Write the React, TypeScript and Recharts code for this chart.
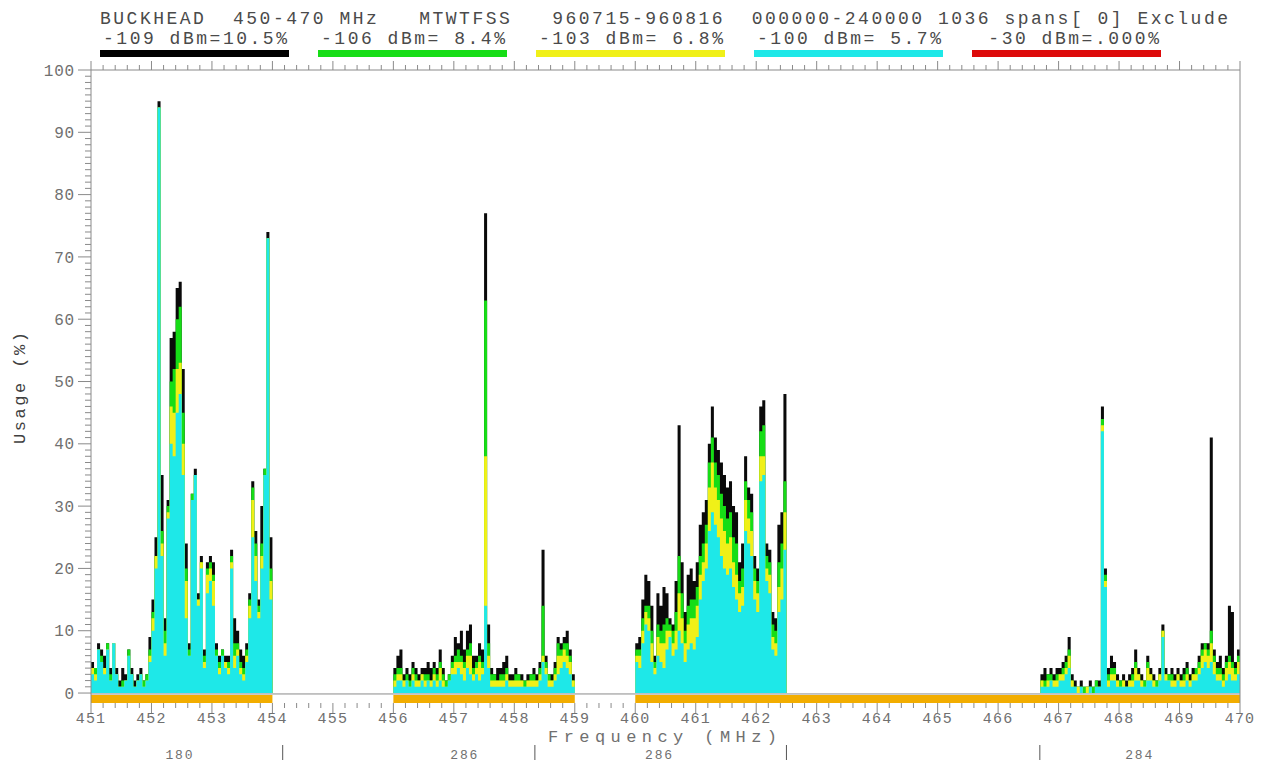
import {
  Area,
  ComposedChart,
  Customized,
  ReferenceArea,
  ReferenceLine,
  XAxis,
  YAxis,
} from "recharts";

const BIN = 0.05; // MHz per usage bin

// first frequency (MHz) of each scanned block
const blockStart = [451, 456, 460, 466.7];

// usage (%) at or above each threshold, one list per block
const usage109 = [
  [5, 4, 8, 7, 6, 8, 4, 8, 4, 2, 4, 3, 7, 4, 2, 3, 4, 2, 3, 9, 15, 25, 95, 35, 12, 31, 57, 58, 65, 66, 52, 24, 8, 32, 36, 16, 22, 7, 21, 22, 21, 8, 6, 7, 6, 6, 23, 12, 10, 7, 6, 8, 16, 34, 26, 15, 30, 36, 74, 25],
  [4, 6, 7, 3, 4, 3, 5, 4, 3, 4, 4, 5, 4, 5, 4, 7, 4, 2, 3, 6, 9, 8, 10, 7, 10, 11, 6, 6, 8, 7, 77, 11, 4, 3, 4, 4, 5, 6, 3, 3, 4, 3, 3, 2, 3, 3, 4, 3, 5, 23, 6, 3, 3, 5, 9, 8, 9, 10, 7, 3],
  [8, 9, 15, 19, 18, 14, 6, 16, 14, 17, 16, 12, 11, 18, 43, 21, 13, 19, 20, 18, 21, 27, 29, 31, 40, 46, 41, 39, 37, 35, 33, 34, 30, 29, 21, 24, 38, 33, 32, 22, 20, 46, 47, 24, 23, 13, 12, 27, 29, 48],
  [3, 4, 3, 4, 3, 4, 4, 5, 6, 9, 3, 2, 1, 2, 1, 1, 2, 1, 2, 2, 46, 20, 4, 6, 5, 3, 2, 3, 2, 3, 4, 7, 4, 3, 2, 6, 4, 3, 2, 4, 11, 4, 3, 4, 3, 4, 3, 4, 5, 3, 4, 4, 6, 8, 8, 8, 41, 7, 5, 6, 4, 6, 14, 13, 5, 7],
];
const usage106 = [
  [4, 4, 7, 6, 4, 8, 3, 8, 3, 1, 2, 2, 7, 3, 1, 2, 3, 2, 3, 7, 13, 22, 94, 26, 10, 30, 50, 52, 60, 62, 45, 20, 7, 32, 35, 15, 21, 6, 20, 21, 19, 7, 5, 7, 5, 5, 22, 8, 8, 5, 4, 7, 15, 33, 24, 14, 24, 36, 73, 20],
  [3, 4, 4, 2, 3, 2, 4, 3, 2, 3, 3, 3, 2, 4, 3, 5, 3, 2, 3, 5, 6, 7, 6, 5, 7, 8, 4, 5, 6, 5, 63, 8, 3, 3, 2, 3, 3, 4, 2, 2, 3, 3, 2, 2, 2, 3, 3, 2, 4, 14, 5, 3, 2, 4, 8, 7, 8, 8, 6, 2],
  [7, 7, 12, 14, 14, 10, 5, 11, 10, 11, 12, 11, 10, 13, 22, 16, 10, 14, 15, 15, 17, 22, 24, 27, 37, 41, 37, 35, 32, 30, 28, 29, 25, 24, 18, 20, 34, 31, 29, 20, 18, 42, 43, 22, 21, 11, 10, 21, 24, 34],
  [2, 2, 3, 3, 2, 3, 3, 4, 5, 7, 2, 1, 1, 1, 1, 1, 1, 1, 2, 1, 44, 19, 3, 4, 4, 2, 2, 2, 1, 2, 3, 5, 3, 2, 2, 5, 3, 2, 2, 3, 10, 3, 3, 3, 2, 3, 2, 3, 4, 2, 3, 4, 5, 7, 8, 7, 10, 6, 4, 4, 3, 5, 6, 5, 4, 6],
];
const usage103 = [
  [4, 3, 7, 5, 4, 7, 2, 8, 3, 1, 1, 2, 6, 3, 1, 2, 3, 1, 2, 6, 12, 22, 94, 24, 8, 29, 46, 45, 52, 53, 40, 18, 6, 31, 35, 15, 21, 5, 19, 20, 18, 6, 4, 6, 5, 4, 21, 6, 7, 4, 3, 6, 14, 31, 22, 13, 22, 35, 73, 18],
  [2, 3, 3, 2, 2, 1, 3, 2, 2, 3, 2, 2, 2, 3, 2, 4, 2, 1, 2, 4, 5, 5, 5, 4, 6, 6, 3, 4, 5, 4, 38, 6, 2, 2, 2, 2, 2, 3, 2, 2, 2, 2, 2, 1, 2, 2, 2, 2, 3, 6, 4, 2, 2, 3, 6, 6, 7, 6, 5, 2],
  [6, 6, 10, 13, 12, 8, 4, 9, 8, 8, 10, 10, 8, 10, 16, 12, 8, 11, 12, 12, 14, 19, 21, 24, 33, 37, 33, 31, 28, 26, 24, 25, 21, 19, 16, 17, 31, 28, 26, 18, 16, 38, 38, 20, 19, 9, 8, 17, 20, 29],
  [2, 1, 2, 2, 2, 2, 3, 3, 4, 6, 2, 1, 1, 1, 0, 1, 1, 0, 1, 1, 43, 18, 2, 3, 3, 2, 1, 2, 1, 2, 2, 4, 3, 2, 1, 4, 3, 2, 1, 3, 10, 3, 2, 2, 2, 3, 2, 2, 3, 2, 3, 3, 4, 6, 7, 6, 8, 5, 3, 3, 2, 4, 5, 4, 3, 5],
];
const usage100 = [
  [3, 2, 7, 5, 3, 7, 2, 8, 3, 1, 1, 2, 6, 3, 1, 2, 3, 1, 2, 5, 10, 20, 94, 22, 6, 28, 40, 38, 45, 48, 35, 12, 6, 31, 35, 14, 20, 4, 16, 18, 14, 6, 3, 6, 4, 3, 20, 4, 6, 3, 2, 5, 12, 25, 18, 12, 20, 35, 73, 15],
  [1, 2, 2, 1, 2, 1, 2, 1, 1, 2, 1, 2, 1, 2, 1, 2, 1, 1, 2, 3, 3, 4, 3, 2, 4, 3, 2, 3, 2, 3, 14, 4, 1, 1, 1, 1, 1, 2, 1, 1, 1, 1, 1, 1, 1, 1, 1, 1, 2, 5, 3, 1, 1, 2, 3, 4, 5, 4, 3, 1],
  [5, 4, 8, 11, 10, 5, 3, 6, 5, 4, 7, 9, 6, 7, 10, 8, 5, 7, 8, 7, 9, 15, 18, 20, 26, 29, 27, 25, 22, 20, 19, 20, 17, 15, 13, 14, 26, 24, 22, 15, 13, 34, 35, 18, 16, 7, 6, 13, 15, 23],
  [1, 1, 1, 2, 1, 1, 2, 2, 3, 4, 1, 1, 0, 1, 0, 0, 1, 0, 1, 1, 42, 17, 1, 2, 2, 1, 1, 1, 1, 1, 1, 2, 2, 1, 1, 2, 2, 1, 1, 2, 9, 2, 2, 1, 1, 2, 1, 1, 2, 1, 2, 2, 3, 4, 5, 4, 5, 3, 2, 2, 1, 2, 3, 2, 2, 3],
];

// legend entries across the header
const thresholds = ["-109 dBm=10.5%", "-106 dBm= 8.4%", "-103 dBm= 6.8%", "-100 dBm= 5.7%", " -30 dBm=.000%"];
const thresholdColors = ["#000000", "#16dd16", "#f0f018", "#1ee8e8", "#dd0a0a"];

// covered spectrum strips under the zero line
const coverFrom = [451, 456, 460];
const coverTo = [454, 459, 470];

// channel counts per sub-band and sub-band borders
const bandCenters = [452.47, 457.18, 460.4, 468.34];
const bandCounts = ["180", "286", "286", "284"];
const bandEdges = [454.17, 458.34, 462.5, 466.69];

const xLabelTicks = [451, 452, 453, 454, 455, 456, 457, 458, 459, 460, 461, 462, 463, 464, 465, 466, 467, 468, 469, 470];
const yLabelTicks = [0, 10, 20, 30, 40, 50, 60, 70, 80, 90, 100];

const xTicks = Array.from({ length: 96 }, (_, i) => +(451 + i * 0.2).toFixed(1));
const yTicks = Array.from({ length: 101 }, (_, i) => i);

const rows: any[] = [];
blockStart.forEach((start, b) => {
  const n = usage109[b].length;
  for (let i = 0; i <= n; i++) {
    const j = Math.min(i, n - 1);
    rows.push({
      f: +(start + i * BIN).toFixed(3),
      k: usage109[b][j],
      g: usage106[b][j],
      y: usage103[b][j],
      c: usage100[b][j],
    });
  }
  if (b < blockStart.length - 1) {
    rows.push({ f: +(start + n * BIN + 0.01).toFixed(3), k: null, g: null, y: null, c: null });
  }
});

const MONO = "'Liberation Mono', 'DejaVu Sans Mono', monospace";
const AXIS = "#8a8a8a";
const LABEL = "#707070";

const isMajorX = (v: number) => xLabelTicks.some((t) => Math.abs(t - v) < 1e-6);
const isMajorY = (v: number) => yLabelTicks.includes(v);

const BottomTick = ({ x, y, payload }: any) => {
  const major = isMajorX(payload.value);
  return (
    <g>
      <line x1={x} x2={x} y1={y} y2={y + (major ? 10 : 5)} stroke={AXIS} />
      {major && (
        <text x={x} y={y + 20} textAnchor="middle" fontFamily={MONO} fontSize={15} letterSpacing={1.2} fill={LABEL}>
          {Math.round(payload.value)}
        </text>
      )}
    </g>
  );
};

const TopTick = ({ x, y, payload }: any) => {
  const major = isMajorX(payload.value);
  return <line x1={x} x2={x} y1={y} y2={y - (major ? 9 : 5)} stroke={AXIS} />;
};

const LeftTick = ({ x, y, payload }: any) => {
  const major = isMajorY(payload.value);
  return (
    <g>
      <line x1={x - (major ? 13 : 6)} x2={x} y1={y} y2={y} stroke={AXIS} />
      {major && (
        <text x={x - 16} y={y} dy="0.35em" textAnchor="end" fontFamily={MONO} fontSize={16} letterSpacing={0.8} fill={LABEL}>
          {payload.value}
        </text>
      )}
    </g>
  );
};

const RightTick = ({ x, y, payload }: any) => {
  const major = isMajorY(payload.value);
  return <line x1={x} x2={x + (major ? 10 : 6)} y1={y} y2={y} stroke={AXIS} />;
};

const BandTick = ({ x, y, payload }: any) => {
  const idx = bandCenters.indexOf(payload.value);
  if (idx < 0) {
    return <line x1={x} x2={x} y1={y + 6} y2={y + 21} stroke="#555" />;
  }
  return (
    <text x={x} y={y + 19.5} textAnchor="middle" fontFamily={MONO} fontSize={13} letterSpacing={1.8} fill={LABEL}>
      {bandCounts[idx]}
    </text>
  );
};

const Header = () => (
  <g fontFamily={MONO} fill="#4a4a4a">
    <text x={100} y={24} fontSize={18} textLength={1128} lengthAdjust="spacing" style={{ whiteSpace: "pre" }}>
      {"BUCKHEAD  450-470 MHz   MTWTFSS   960715-960816  000000-240000 1036 spans[ 0] Exclude"}
    </text>
    {thresholds.map((t, i) => (
      <g key={t}>
        <text x={103 + i * 218} y={44} fontSize={18} textLength={184} lengthAdjust="spacing" style={{ whiteSpace: "pre" }}>
          {t}
        </text>
        <rect x={100 + i * 218} y={50} width={189} height={7} fill={thresholdColors[i]} />
      </g>
    ))}
    <text x={548} y={742} fontSize={17} textLength={229} lengthAdjust="spacing" fill={LABEL} style={{ whiteSpace: "pre" }}>
      Frequency (MHz)
    </text>
    <text
      x={0}
      y={0}
      fontSize={17}
      textLength={112}
      lengthAdjust="spacing"
      fill="#404040"
      textAnchor="middle"
      transform="translate(25 388) rotate(-90)"
      style={{ whiteSpace: "pre" }}
    >
      Usage (%)
    </text>
  </g>
);

export default function App() {
  return (
    <div style={{ position: "absolute", left: 0, top: 0, width: 1262, height: 763, background: "#fff" }}>
      <ComposedChart width={1262} height={763} data={rows} margin={{ top: 60, right: 12, bottom: 8, left: 31 }}>
        <XAxis
          xAxisId="b"
          dataKey="f"
          type="number"
          domain={[451, 470]}
          ticks={xTicks}
          interval={0}
          height={36}
          axisLine={false}
          tickLine={false}
          tickSize={0}
          tickMargin={0}
          tick={(p: any) => <BottomTick {...p} />}
        />
        <XAxis
          xAxisId="band"
          dataKey="f"
          type="number"
          domain={[451, 470]}
          ticks={[...bandCenters, ...bandEdges]}
          interval={0}
          height={16}
          axisLine={false}
          tickLine={false}
          tickSize={0}
          tickMargin={0}
          tick={(p: any) => <BandTick {...p} />}
        />
        <XAxis
          xAxisId="t"
          orientation="top"
          dataKey="f"
          type="number"
          domain={[451, 470]}
          ticks={xTicks}
          interval={0}
          height={10}
          axisLine={{ stroke: AXIS }}
          tickLine={false}
          tickSize={0}
          tickMargin={0}
          tick={(p: any) => <TopTick {...p} />}
        />
        <YAxis
          yAxisId="l"
          type="number"
          domain={[-1.6, 100]}
          ticks={yTicks}
          interval={0}
          width={60}
          axisLine={{ stroke: AXIS }}
          tickLine={false}
          tickSize={0}
          tickMargin={0}
          tick={(p: any) => <LeftTick {...p} />}
        />
        <YAxis
          yAxisId="r"
          orientation="right"
          type="number"
          domain={[-1.6, 100]}
          ticks={yTicks}
          interval={0}
          width={10}
          axisLine={{ stroke: AXIS }}
          tickLine={false}
          tickSize={0}
          tickMargin={0}
          tick={(p: any) => <RightTick {...p} />}
        />

        {coverFrom.map((x1, i) => (
          <ReferenceArea
            key={x1}
            xAxisId="b"
            yAxisId="l"
            x1={x1}
            x2={coverTo[i]}
            y1={-1.6}
            y2={-0.3}
            fill="#f2ad00"
            fillOpacity={1}
            stroke="none"
          />
        ))}

        <Area xAxisId="b" yAxisId="l" dataKey="k" type="stepAfter" baseValue={0} stroke="none" fill="#0a0a0a" fillOpacity={1} dot={false} activeDot={false} isAnimationActive={false} />
        <Area xAxisId="b" yAxisId="l" dataKey="g" type="stepAfter" baseValue={0} stroke="none" fill="#16dd16" fillOpacity={1} dot={false} activeDot={false} isAnimationActive={false} />
        <Area xAxisId="b" yAxisId="l" dataKey="y" type="stepAfter" baseValue={0} stroke="none" fill="#f0f018" fillOpacity={1} dot={false} activeDot={false} isAnimationActive={false} />
        <Area xAxisId="b" yAxisId="l" dataKey="c" type="stepAfter" baseValue={0} stroke="none" fill="#1ee8e8" fillOpacity={1} dot={false} activeDot={false} isAnimationActive={false} />

        <ReferenceLine xAxisId="b" yAxisId="l" y={-0.15} stroke={AXIS} strokeWidth={1} />
        <Customized component={<Header />} />
      </ComposedChart>
    </div>
  );
}
